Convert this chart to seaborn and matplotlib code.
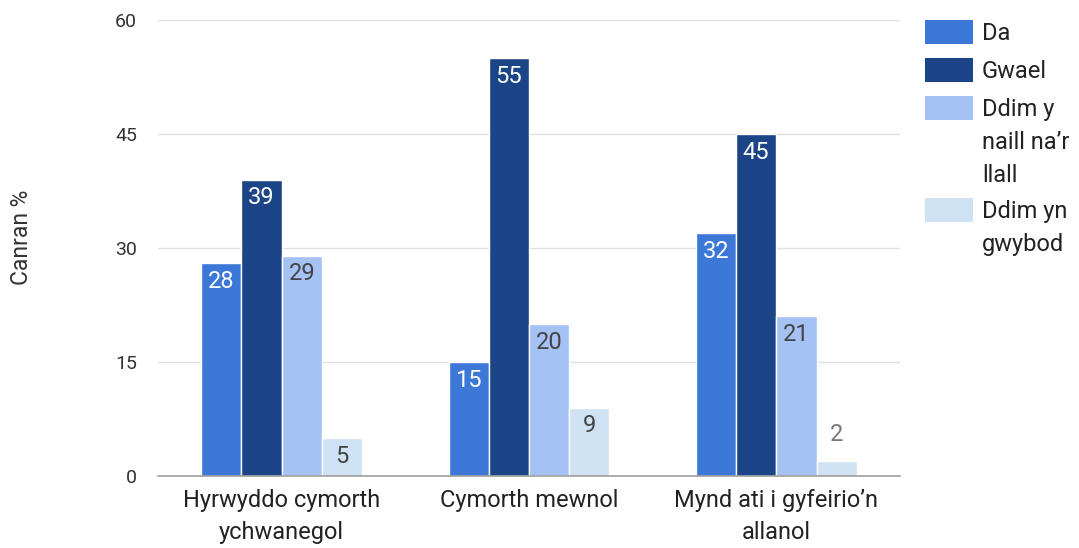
import matplotlib
matplotlib.use("Agg")
import matplotlib.pyplot as plt
from matplotlib.patches import Rectangle
import seaborn as sns
import pandas as pd

categories = ["Hyrwyddo cymorth\nychwanegol", "Cymorth mewnol", "Mynd ati i gyfeirio\u2019n\nallanol"]
series = ["Da", "Gwael", "Ddim y naill na\u2019r llall", "Ddim yn gwybod"]
legend_labels = ["Da", "Gwael", "Ddim y\nnaill na\u2019r\nllall", "Ddim yn\ngwybod"]
da = [28, 15, 32]
gwael = [39, 55, 45]
naill = [29, 20, 21]
gwybod = [5, 9, 2]
colors = ["#3c78d8", "#1c4587", "#a4c2f4", "#cfe2f3"]
label_colors = ["white", "white", "#444444", "#444444"]

rows = []
for s, vals in zip(series, [da, gwael, naill, gwybod]):
    for c, v in zip(categories, vals):
        rows.append({"cat": c, "series": s, "value": v})
df = pd.DataFrame(rows)

sns.set_style("white")
plt.rcParams["font.family"] = ["Roboto", "DejaVu Sans"]

W, H = 1079, 548
fig = plt.figure(figsize=(W / 100, H / 100), dpi=100)
ax = fig.add_axes([158 / W, 1 - 476 / H, 742 / W, 456 / H])

sns.barplot(data=df, x="cat", y="value", hue="series", hue_order=series,
            order=categories, palette=colors, saturation=1, width=0.65, ax=ax,
            edgecolor="white", linewidth=1, legend=False, errorbar=None)

ax.set_ylim(0, 60)
ax.set_xlim(-0.5, 2.5)
ax.set_yticks([0, 15, 30, 45, 60])
ax.yaxis.grid(True, color="#e0e0e0", linewidth=1)
ax.set_axisbelow(True)
for sp in ["top", "right", "left"]:
    ax.spines[sp].set_visible(False)
ax.spines["bottom"].set_color("#9e9e9e")
ax.spines["bottom"].set_linewidth(1.2)
ax.tick_params(axis="y", length=0, labelsize=14, labelcolor="#333333", pad=15)
ax.tick_params(axis="x", length=0, labelsize=17, labelcolor="#222222", pad=9)
for t in ax.get_xticklabels():
    t.set_linespacing(1.55)
ax.set_xlabel("")
ax.set_ylabel("")
fig.text(22 / W, 1 - 237 / H, "Canran %", rotation=90, fontsize=16.5,
         color="#333333", ha="center", va="center")

for i, cont in enumerate(ax.containers):
    for bar in cont:
        h = bar.get_height()
        x = bar.get_x() + bar.get_width() / 2
        if h >= 4:
            ax.text(x, h - 0.9, f"{h:g}", ha="center", va="top",
                    fontsize=17, color=label_colors[i])
        else:
            ax.text(x, h + 2.0, f"{h:g}", ha="center", va="bottom",
                    fontsize=17, color="#777777")

# legend drawn by hand to keep the wrapped labels
tops = [20, 58, 96, 198]
for col, lab, t in zip(colors, legend_labels, tops):
    fig.add_artist(Rectangle((925 / W, 1 - (t + 24) / H), 48 / W, 24 / H,
                             transform=fig.transFigure, facecolor=col,
                             edgecolor="none"))
    fig.text(982 / W, 1 - (t + 2) / H, lab, fontsize=17, color="#222222",
             va="top", ha="left", linespacing=1.55)

fig.savefig("out.png", dpi=100)
